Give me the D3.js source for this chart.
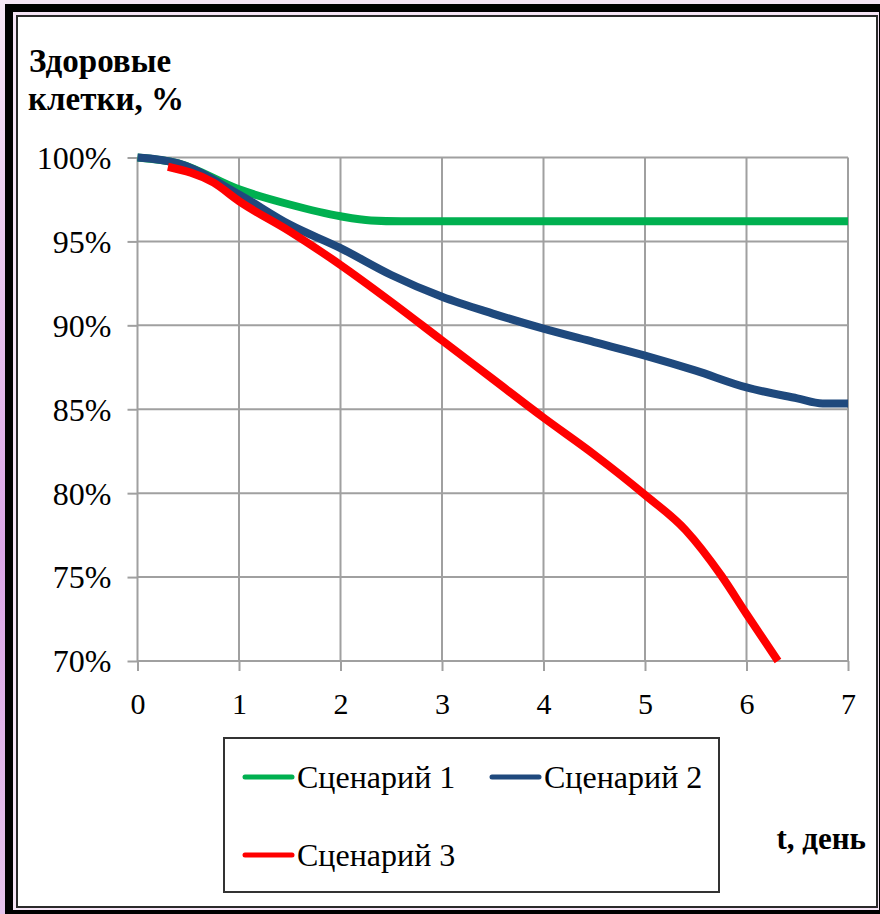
<!DOCTYPE html>
<html>
<head>
<meta charset="utf-8">
<script src="https://cdn.jsdelivr.net/npm/d3@7"></script>
<style>
  body { margin: 0; background: #f3e2f3; }
  svg { display: block; }
  svg text { font-family: "Liberation Serif", "Times New Roman", "DejaVu Serif", serif; }
</style>
</head>
<body>
<div id="container"></div>
<script>
let w = 880;
let h = 914;

// data (t in days, value in %)
let yTicks = [70, 75, 80, 85, 90, 95, 100];
let xTicks = [0, 1, 2, 3, 4, 5, 6, 7];

let names = ["Сценарий 1", "Сценарий 2", "Сценарий 3"];
let colors = ["#00b050", "#1f497d", "#ff0000"];

let t1 = [0, 0.4, 1, 1.5, 2, 2.3, 2.6, 3, 4, 5, 6, 7];
let v1 = [100, 99.65, 98.1, 97.2, 96.5, 96.25, 96.2, 96.2, 96.2, 96.2, 96.2, 96.2];

let t2 = [0, 0.4, 1, 1.5, 2, 2.5, 3, 3.5, 4, 4.5, 5, 5.5, 6, 6.5, 6.75, 7];
let v2 = [100, 99.65, 97.8, 96.0, 94.6, 93.0, 91.7, 90.7, 89.8, 89.0, 88.2, 87.3, 86.3, 85.65, 85.35, 85.35];

let t3 = [0.3, 0.75, 1, 1.5, 2, 2.5, 3, 3.5, 4, 4.5, 5, 5.4, 5.75, 6, 6.31];
let v3 = [99.45, 98.5, 97.4, 95.6, 93.6, 91.4, 89.1, 86.8, 84.5, 82.3, 79.9, 77.8, 75.1, 72.8, 70];

let seriesT = [t1, t2, t3];
let seriesV = [v1, v2, v3];

let plotLeft = 137.5;
let plotRight = 848;
let plotTop = 157.5;
let plotBottom = 661;

let serif = '"Liberation Serif", "Times New Roman", "DejaVu Serif", serif';

let viz = d3.select("#container")
  .append("svg")
    .attr("width", w)
    .attr("height", h)
;

// page background + frames
let defs = viz.append("defs");
let glow = defs.append("linearGradient").attr("id", "glow").attr("x1", 0).attr("x2", 0).attr("y1", 0).attr("y2", 1);
glow.append("stop").attr("offset", "0%").attr("stop-color", "#f6e6f6");
glow.append("stop").attr("offset", "60%").attr("stop-color", "#dca6e8");
glow.append("stop").attr("offset", "100%").attr("stop-color", "#e6c3ec");
viz.append("rect").attr("x", 0).attr("y", 0).attr("width", w).attr("height", h).attr("fill", "#f5e4f5");
viz.append("rect").attr("x", 0).attr("y", 0).attr("width", 6).attr("height", h).attr("fill", "url(#glow)");

viz.append("rect")
  .attr("x", 9).attr("y", 8)
  .attr("width", 874).attr("height", 906)
  .attr("fill", "none")
  .attr("stroke", "#000")
  .attr("stroke-width", 8)
;
viz.append("rect")
  .attr("x", 17).attr("y", 16)
  .attr("width", 860).attr("height", 891)
  .attr("fill", "#fff")
  .attr("stroke", "#2a2a2a")
  .attr("stroke-width", 2)
;

// scales
let xScale = d3.scaleLinear().domain([0, 7]).range([plotLeft, plotRight]);
let yScale = d3.scaleLinear().domain([70, 100]).range([plotBottom, plotTop]);

// grid
let grid = viz.append("g").attr("class", "grid");
grid.selectAll(".hgrid").data(yTicks).enter()
  .append("line")
    .attr("x1", plotLeft).attr("x2", plotRight)
    .attr("y1", d => yScale(d)).attr("y2", d => yScale(d))
    .attr("stroke", "#a0a0a0")
    .attr("stroke-width", 2)
;
grid.selectAll(".vgrid").data(xTicks).enter()
  .append("line")
    .attr("x1", d => xScale(d)).attr("x2", d => xScale(d))
    .attr("y1", plotTop).attr("y2", plotBottom)
    .attr("stroke", "#a0a0a0")
    .attr("stroke-width", 2)
;

// y axis
let yAxis = d3.axisLeft(yScale).tickValues(yTicks).tickSize(10).tickPadding(16)
  .tickFormat(d => d + "%");
let yAxisGroup = viz.append("g").attr("class", "yaxis")
  .attr("transform", "translate(" + plotLeft + ", 0)")
  .call(yAxis);
yAxisGroup.attr("font-family", null).attr("font-size", null);
yAxisGroup.select(".domain").remove();
yAxisGroup.selectAll("line").attr("stroke", "#a0a0a0").attr("stroke-width", 2);
yAxisGroup.selectAll("text")
  .style("font-family", serif)
  .style("font-size", "32px")
  .attr("fill", "#000")
  .attr("dy", "0.34em")
;

// x axis
let xAxis = d3.axisBottom(xScale).tickValues(xTicks).tickSize(10).tickPadding(22)
  .tickFormat(d3.format("d"));
let xAxisGroup = viz.append("g").attr("class", "xaxis")
  .attr("transform", "translate(0, " + plotBottom + ")")
  .call(xAxis);
xAxisGroup.attr("font-family", null).attr("font-size", null);
xAxisGroup.select(".domain").remove();
xAxisGroup.selectAll("line").attr("stroke", "#a0a0a0").attr("stroke-width", 2);
xAxisGroup.selectAll("text")
  .style("font-family", serif)
  .style("font-size", "30px")
  .attr("fill", "#000")
;

// lines
let line = d3.line()
  .x(d => xScale(d[0]))
  .y(d => yScale(d[1]))
  .curve(d3.curveMonotoneX);

let lineGroup = viz.append("g").attr("class", "lines");
for (let i = 0; i < 3; i++) {
  let pts = seriesT[i].map((t, j) => [t, seriesV[i][j]]);
  lineGroup.append("path")
    .datum(pts)
    .attr("d", line)
    .attr("fill", "none")
    .attr("stroke", colors[i])
    .attr("stroke-width", 8)
    .attr("stroke-linejoin", "round")
  ;
}

// axis titles
let title = viz.append("text")
  .style("font-family", serif)
  .style("font-weight", "bold")
  .style("font-size", "33px")
  .attr("fill", "#000");
title.append("tspan").attr("x", 29).attr("y", 72).text("Здоровые");
title.append("tspan").attr("x", 28).attr("y", 110).text("клетки, %");

viz.append("text")
  .attr("x", 866).attr("y", 849)
  .attr("text-anchor", "end")
  .style("font-family", serif)
  .style("font-weight", "bold")
  .style("font-size", "31px")
  .attr("fill", "#000")
  .text("t, день");

// legend
let legend = viz.append("g").attr("class", "legend");
legend.append("rect")
  .attr("x", 224).attr("y", 738)
  .attr("width", 495).attr("height", 154)
  .attr("fill", "#fff")
  .attr("stroke", "#333")
  .attr("stroke-width", 2);

let legendPos = [[245, 777], [492, 777], [245, 855]];
for (let i = 0; i < 3; i++) {
  let item = legend.append("g").attr("transform", "translate(" + legendPos[i][0] + ", " + legendPos[i][1] + ")");
  item.append("line")
    .attr("x1", 0).attr("x2", 47)
    .attr("y1", 0).attr("y2", 0)
    .attr("stroke", colors[i])
    .attr("stroke-width", 5)
    .attr("stroke-linecap", "round");
  item.append("text")
    .attr("x", 52).attr("y", 11)
    .style("font-family", serif)
    .style("font-size", "32px")
    .attr("fill", "#000")
    .text(names[i]);
}
</script>
</body>
</html>
